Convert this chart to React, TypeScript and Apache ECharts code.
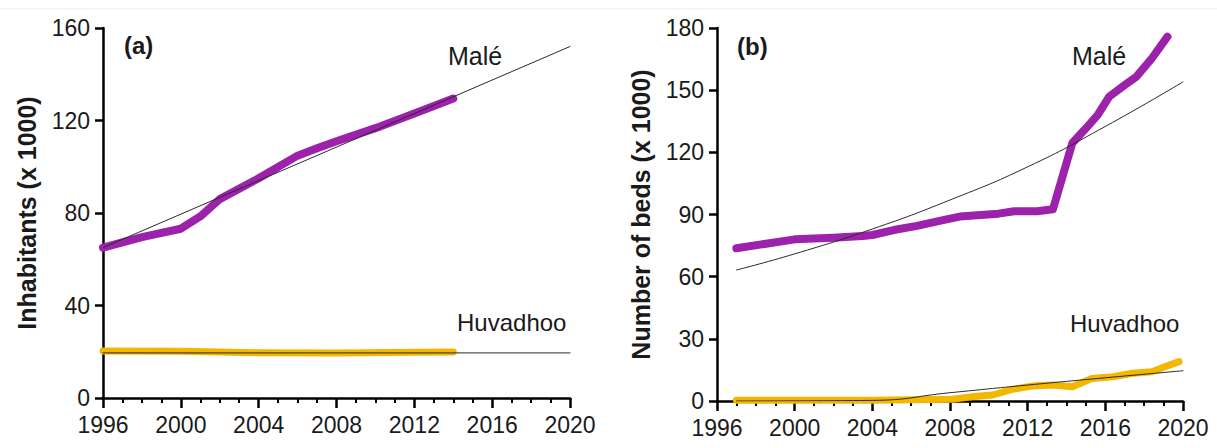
import React, { useEffect, useRef } from "react";
import * as echarts from "echarts";

// Panel (a): inhabitants (x 1000)
const maleAYears = [1996, 1998, 2000, 2001, 2002, 2004, 2006, 2007, 2008, 2010, 2012, 2014];
const maleAValues = [65, 69.6, 73.2, 78.5, 86, 95, 104.8, 108, 111, 116.7, 123, 129.5];
const maleATrendYears = [1996, 2020];
const maleATrendValues = [65, 152];
const huvAYears = [1996, 2000, 2004, 2008, 2012, 2014];
const huvAValues = [20.3, 20.2, 19.6, 19.5, 19.8, 19.9];
const huvATrendYears = [1996, 2020];
const huvATrendValues = [19.5, 19.5];

// Panel (b): number of beds (x 1000)
const maleBYears = [1997, 2000, 2002, 2003.5, 2004, 2005.1, 2006.3, 2007.7, 2008.5, 2010.5, 2011.3, 2012.5, 2013.3, 2014.3, 2015, 2015.6, 2016.2, 2017, 2017.6, 2018.4, 2019.2];
const maleBValues = [73.7, 78, 78.8, 79.6, 80.1, 82.5, 84.5, 87.4, 89, 90.4, 91.6, 91.6, 92.5, 124.5, 131.6, 138, 146.9, 152.5, 156.5, 165.4, 175.8];
const maleBTrendYears = [1997, 2000, 2004, 2008, 2012, 2016, 2020];
const maleBTrendValues = [63.2, 71, 83, 97, 113, 132.5, 154];
const huvBYears = [1997, 2004, 2008.1, 2009.1, 2010.2, 2011.2, 2012.2, 2013.3, 2014.3, 2015.3, 2016.4, 2017.4, 2018.4, 2019.1, 2019.8];
const huvBValues = [0.4, 0.4, 0.8, 2, 2.9, 5.6, 7.2, 7.7, 6.9, 10.9, 11.7, 13.4, 14.1, 16.6, 19];
const huvBTrendYears = [1997, 2004, 2008, 2012, 2016, 2020];
const huvBTrendValues = [0, 0.3, 4, 7.7, 11.2, 14.6];

const yTicksA = { min: 0, max: 160, interval: 40 };
const yTicksB = { min: 0, max: 180, interval: 30 };
const xTicks = { min: 1996, max: 2020, interval: 4 };

const PURPLE = "#9d22ab";
const YELLOW = "#f3b700";
const TREND = "#2a2a2a";
const FONT = "'Liberation Sans', Arial, Helvetica, sans-serif";

const zip = (xs: number[], ys: number[]) => xs.map((x, i) => [x, ys[i]]);

function xAxis(gridIndex: number) {
  return {
    type: "value",
    gridIndex,
    min: xTicks.min,
    max: xTicks.max,
    interval: xTicks.interval,
    axisLine: { show: true, lineStyle: { color: "#000", width: 2.5 } },
    axisTick: { show: true, inside: false, length: 10, lineStyle: { color: "#000", width: 2.5 } },
    minorTick: { show: true, splitNumber: 4, length: 5, lineStyle: { color: "#000", width: 2 } },
    splitLine: { show: false },
    minorSplitLine: { show: false },
    axisLabel: {
      fontSize: 23,
      color: "#1a1a1a",
      fontFamily: FONT,
      margin: 15,
      formatter: (v: number) => String(v),
    },
  };
}

function yAxis(gridIndex: number, t: { min: number; max: number; interval: number }, name: string) {
  return {
    type: "value",
    gridIndex,
    min: t.min,
    max: t.max,
    interval: t.interval,
    name,
    nameLocation: "middle",
    nameGap: 64,
    nameTextStyle: { fontSize: 25, fontWeight: "bold", color: "#1a1a1a", fontFamily: FONT },
    axisLine: { show: true, lineStyle: { color: "#000", width: 2.5 } },
    axisTick: { show: true, inside: false, length: 8, lineStyle: { color: "#000", width: 2.5 } },
    splitLine: { show: false },
    axisLabel: { fontSize: 23, color: "#1a1a1a", fontFamily: FONT, margin: 13 },
  };
}

function line(data: number[][], idx: number, color: string, width: number, z: number, smooth = false) {
  return {
    type: "line",
    xAxisIndex: idx,
    yAxisIndex: idx,
    data,
    showSymbol: false,
    symbol: "none",
    smooth,
    z,
    lineStyle: { color, width, cap: "round", join: "round" },
  };
}

function text(x: number, y: number, s: string, size: number, bold = false) {
  return {
    type: "text",
    x,
    y,
    style: {
      text: s,
      fontSize: size,
      fontWeight: bold ? "bold" : "normal",
      fontFamily: FONT,
      fill: "#1a1a1a",
      textVerticalAlign: "middle",
    },
  };
}

export default function App() {
  const ref = useRef<HTMLDivElement>(null);
  useEffect(() => {
    if (!ref.current) return;
    const chart = echarts.init(ref.current, undefined, { renderer: "svg" });
    chart.setOption({
      animation: false,
      backgroundColor: "#ffffff",
      grid: [
        { left: 103, top: 28, width: 467, height: 370 },
        { left: 717, top: 28, width: 466, height: 373 },
      ],
      xAxis: [xAxis(0), xAxis(1)],
      yAxis: [
        yAxis(0, yTicksA, "Inhabitants (x 1000)"),
        yAxis(1, yTicksB, "Number of beds (x 1000)"),
      ],
      series: [
        line(zip(maleAYears, maleAValues), 0, PURPLE, 8, 2),
        line(zip(huvAYears, huvAValues), 0, YELLOW, 7, 2),
        line(zip(maleATrendYears, maleATrendValues), 0, TREND, 1, 3),
        line(zip(huvATrendYears, huvATrendValues), 0, TREND, 1, 3),
        line(zip(maleBYears, maleBValues), 1, PURPLE, 8, 2),
        line(zip(huvBYears, huvBValues), 1, YELLOW, 7, 2),
        line(zip(maleBTrendYears, maleBTrendValues), 1, TREND, 1, 3, true),
        line(zip(huvBTrendYears, huvBTrendValues), 1, TREND, 1, 3, true),
      ],
      graphic: [
        { type: "line", shape: { x1: 0, y1: 9, x2: 1217, y2: 9 }, style: { stroke: "#ececec", lineWidth: 1 } },
        text(124, 45, "(a)", 24, true),
        text(737, 46, "(b)", 24, true),
        text(448, 56, "Malé", 25),
        text(457, 322, "Huvadhoo", 24),
        text(1072, 56, "Malé", 25),
        text(1070, 323, "Huvadhoo", 24),
      ],
    });
    return () => chart.dispose();
  }, []);
  return (
    <div
      ref={ref}
      style={{ position: "absolute", left: 0, top: 0, width: 1217, height: 448, background: "#fff" }}
    />
  );
}
